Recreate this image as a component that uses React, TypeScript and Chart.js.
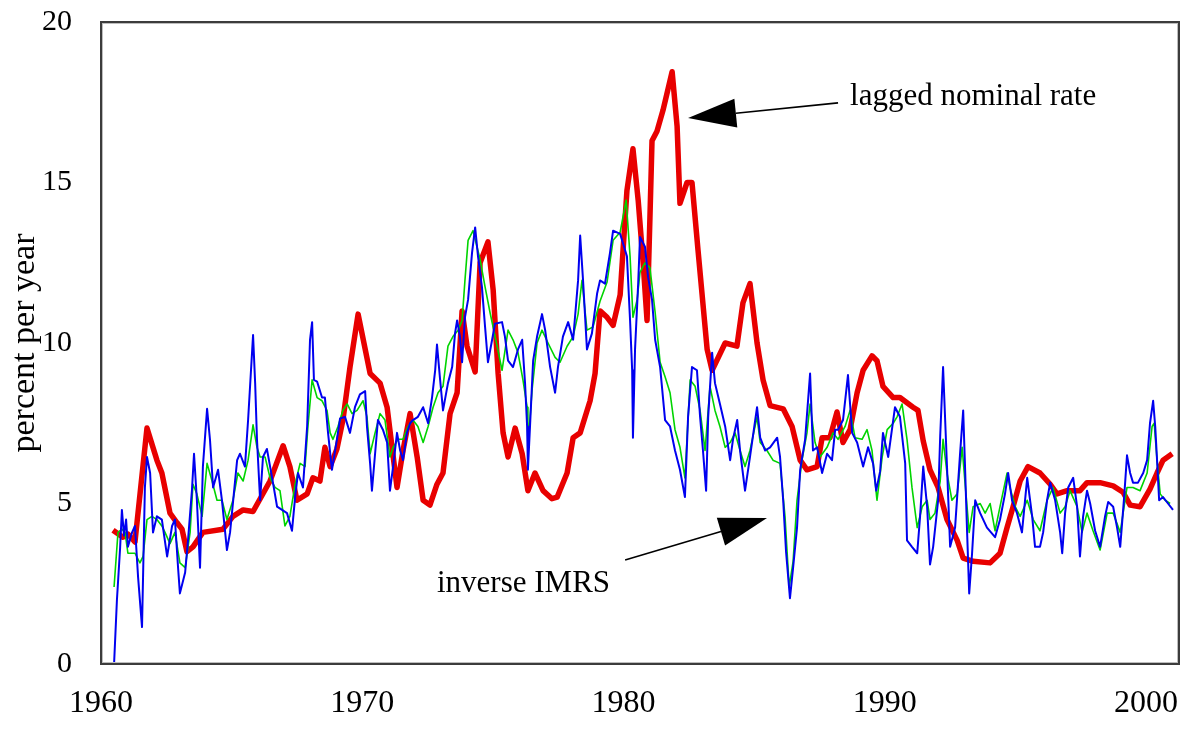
import React, { useEffect, useRef } from 'react';
import { Chart, registerables } from 'chart.js';

Chart.register(...registerables);

// ---- data (year, percent per year) ----
const X_TICKS = [1960, 1970, 1980, 1990, 2000];
const Y_TICKS = [0, 5, 10, 15, 20];
const X_RANGE = [1960, 2001.26];
const Y_RANGE = [0, 20];

// lagged nominal rate (thick red)
const RED: [number, number][] = [
  [1960.46,4.17],[1960.84,3.95],[1961.03,4.05],[1961.30,3.8],[1961.76,7.35],[1962.14,6.35],[1962.33,5.95],[1962.64,4.7],[1962.91,4.4],[1963.10,4.2],
  [1963.29,3.5],[1963.52,3.65],[1963.90,4.1],[1964.67,4.2],[1965.05,4.6],[1965.44,4.8],[1965.82,4.75],[1966.47,5.7],[1966.97,6.8],[1967.23,6.15],
  [1967.50,5.1],[1967.89,5.3],[1968.11,5.8],[1968.38,5.7],[1968.57,6.75],[1968.77,6.15],[1969.03,6.7],[1969.26,7.6],[1969.53,9.25],[1969.84,10.9],
  [1970.30,9.05],[1970.68,8.75],[1970.95,8.0],[1971.14,6.75],[1971.33,5.5],[1971.56,6.65],[1971.83,7.8],[1972.10,6.45],[1972.33,5.1],[1972.59,4.95],
  [1972.86,5.6],[1973.09,5.95],[1973.36,7.8],[1973.63,8.45],[1973.82,11.0],[1974.01,9.9],[1974.32,9.1],[1974.51,12.5],[1974.81,13.15],[1975.01,11.65],
  [1975.20,9.05],[1975.39,7.2],[1975.58,6.45],[1975.85,7.35],[1976.12,6.55],[1976.34,5.4],[1976.61,5.95],[1976.92,5.4],[1977.26,5.15],[1977.46,5.2],
  [1977.84,5.95],[1978.07,7.05],[1978.34,7.2],[1978.72,8.2],[1978.91,9.05],[1979.10,11.0],[1979.37,10.8],[1979.60,10.55],[1979.87,11.5],[1980.13,14.75],
  [1980.36,16.05],[1980.56,14.45],[1980.75,12.5],[1980.90,10.7],[1981.01,13.9],[1981.09,16.3],[1981.28,16.6],[1981.51,17.25],[1981.86,18.45],[1982.05,16.75],
  [1982.16,14.35],[1982.43,15.0],[1982.62,15.0],[1982.85,12.9],[1983.20,9.8],[1983.39,9.15],[1983.89,10.0],[1984.34,9.9],[1984.57,11.25],[1984.84,11.85],
  [1985.11,10.0],[1985.34,8.85],[1985.61,8.05],[1986.11,7.95],[1986.45,7.4],[1986.76,6.35],[1987.02,6.05],[1987.41,6.15],[1987.60,7.05],[1987.90,7.05],
  [1988.17,7.85],[1988.40,6.9],[1988.67,7.3],[1988.94,8.45],[1989.17,9.15],[1989.51,9.6],[1989.70,9.45],[1989.93,8.65],[1990.32,8.3],[1990.58,8.3],
  [1991.08,8.0],[1991.27,7.9],[1991.47,6.95],[1991.73,6.05],[1992.04,5.5],[1992.38,4.5],[1992.77,3.85],[1993.00,3.3],[1993.38,3.2],[1994.03,3.15],
  [1994.41,3.45],[1994.68,4.25],[1994.91,4.9],[1995.18,5.7],[1995.48,6.15],[1995.94,5.95],[1996.33,5.6],[1996.59,5.3],[1996.98,5.4],[1997.47,5.4],
  [1997.74,5.65],[1998.24,5.65],[1998.74,5.55],[1999.12,5.35],[1999.39,4.95],[1999.77,4.9],[2000.15,5.45],[2000.42,5.95],[2000.65,6.35],[2001.00,6.55],
];

// inverse IMRS (thin blue)
const BLUE: [number, number][] = [
  [1960.50,0.0],[1960.61,2.0],[1960.73,3.6],[1960.80,4.8],[1960.88,4.0],[1960.96,4.5],[1961.03,3.65],[1961.19,4.1],[1961.30,4.3],[1961.42,2.7],
  [1961.57,1.15],[1961.68,5.5],[1961.76,6.45],[1961.88,5.95],[1961.99,4.1],[1962.14,4.6],[1962.33,4.5],[1962.53,3.35],[1962.72,4.3],[1962.83,4.5],
  [1962.95,3.0],[1963.02,2.2],[1963.22,2.85],[1963.33,3.85],[1963.48,5.4],[1963.56,6.55],[1963.67,5.1],[1963.79,3.0],[1963.90,6.15],[1964.06,7.95],
  [1964.17,7.0],[1964.29,5.5],[1964.48,6.05],[1964.63,5.1],[1964.82,3.55],[1964.94,4.1],[1965.21,6.35],[1965.32,6.55],[1965.51,6.15],[1965.63,7.6],
  [1965.82,10.25],[1965.90,8.75],[1965.97,7.0],[1966.09,5.1],[1966.20,6.45],[1966.35,6.7],[1966.55,5.8],[1966.74,4.9],[1966.93,4.8],[1967.12,4.7],
  [1967.31,4.15],[1967.43,5.2],[1967.54,5.95],[1967.73,5.5],[1967.89,7.4],[1968.00,10.1],[1968.08,10.65],[1968.15,8.85],[1968.27,8.8],[1968.46,8.3],
  [1968.57,8.3],[1968.69,7.2],[1968.84,6.05],[1969.03,7.0],[1969.15,7.65],[1969.34,7.7],[1969.53,7.2],[1969.72,8.0],[1969.91,8.4],[1970.11,8.5],
  [1970.18,7.4],[1970.30,6.25],[1970.37,5.4],[1970.49,6.55],[1970.60,7.6],[1970.79,7.3],[1970.95,6.9],[1971.06,5.4],[1971.18,6.15],[1971.33,7.2],
  [1971.45,6.65],[1971.56,6.35],[1971.71,7.2],[1971.83,7.5],[1971.94,7.6],[1972.13,7.7],[1972.33,8.0],[1972.52,7.5],[1972.67,8.3],[1972.79,9.15],
  [1972.86,9.95],[1972.98,8.85],[1973.09,7.9],[1973.28,8.75],[1973.44,9.25],[1973.55,10.3],[1973.63,10.7],[1973.74,10.2],[1973.82,9.4],[1973.93,10.8],
  [1974.05,11.35],[1974.20,12.8],[1974.32,13.6],[1974.43,12.7],[1974.58,11.75],[1974.70,10.5],[1974.81,9.4],[1974.97,10.1],[1975.08,10.6],[1975.35,10.65],
  [1975.46,10.2],[1975.58,9.45],[1975.77,9.25],[1975.96,9.8],[1976.12,10.1],[1976.23,8.75],[1976.31,7.4],[1976.34,6.05],[1976.42,7.4],[1976.54,9.45],
  [1976.69,10.2],[1976.88,10.9],[1977.00,10.4],[1977.19,9.25],[1977.38,8.45],[1977.49,9.25],[1977.68,10.2],[1977.88,10.65],[1978.07,10.1],[1978.26,11.95],
  [1978.34,13.35],[1978.45,11.95],[1978.60,9.8],[1978.79,10.3],[1978.99,11.55],[1979.10,11.95],[1979.29,11.85],[1979.48,12.8],[1979.60,13.5],[1979.87,13.4],
  [1980.13,12.7],[1980.25,10.7],[1980.33,9.15],[1980.36,7.05],[1980.44,9.8],[1980.56,11.85],[1980.63,13.3],[1980.82,13.0],[1980.94,12.05],[1981.09,11.35],
  [1981.21,10.1],[1981.40,9.25],[1981.59,7.6],[1981.78,7.4],[1981.97,6.65],[1982.16,6.05],[1982.35,5.2],[1982.47,7.7],[1982.62,9.25],[1982.81,9.15],
  [1982.93,7.7],[1983.04,6.65],[1983.16,5.4],[1983.24,7.7],[1983.39,9.7],[1983.50,8.75],[1983.69,8.1],[1983.89,7.4],[1984.08,6.35],[1984.19,7.0],
  [1984.35,7.6],[1984.46,6.65],[1984.65,5.4],[1984.84,6.45],[1985.11,8.0],[1985.23,7.05],[1985.42,6.65],[1985.61,6.75],[1985.88,7.05],[1985.99,6.45],
  [1986.11,5.1],[1986.22,3.5],[1986.37,2.05],[1986.49,3.0],[1986.64,4.25],[1986.76,6.05],[1986.95,7.0],[1987.14,9.05],[1987.25,6.65],[1987.41,6.75],
  [1987.60,5.95],[1987.79,6.55],[1987.98,6.35],[1988.10,7.3],[1988.21,7.3],[1988.40,7.6],[1988.59,9.0],[1988.75,7.2],[1988.94,6.9],[1989.17,6.15],
  [1989.36,6.75],[1989.55,6.25],[1989.67,5.4],[1989.82,6.0],[1989.93,7.2],[1990.13,6.45],[1990.39,8.0],[1990.58,7.7],[1990.78,6.25],[1990.85,3.85],
  [1991.04,3.65],[1991.24,3.45],[1991.35,4.6],[1991.47,6.15],[1991.62,4.9],[1991.73,3.1],[1991.85,3.65],[1992.04,5.1],[1992.12,7.1],[1992.23,9.25],
  [1992.38,6.15],[1992.50,3.65],[1992.69,4.25],[1992.88,6.55],[1993.00,7.9],[1993.07,6.15],[1993.15,4.1],[1993.23,2.2],[1993.34,3.45],[1993.46,5.1],
  [1993.65,4.7],[1993.91,4.25],[1994.22,3.95],[1994.41,4.5],[1994.60,5.3],[1994.72,5.95],[1994.87,5.1],[1995.06,4.7],[1995.25,4.1],[1995.45,5.8],
  [1995.64,4.6],[1995.75,3.65],[1995.94,3.65],[1996.06,4.1],[1996.21,5.1],[1996.33,5.65],[1996.52,5.1],[1996.71,4.1],[1996.79,3.45],[1996.90,4.7],
  [1997.02,5.5],[1997.21,5.8],[1997.36,4.9],[1997.47,3.35],[1997.59,4.6],[1997.74,5.4],[1997.86,5.0],[1998.05,4.15],[1998.24,3.65],[1998.43,4.6],
  [1998.55,5.05],[1998.74,4.9],[1998.89,4.25],[1999.01,3.65],[1999.16,5.2],[1999.27,6.5],[1999.39,5.95],[1999.50,5.65],[1999.69,5.65],[1999.89,5.95],
  [2000.04,6.35],[2000.15,7.5],[2000.27,8.2],[2000.35,7.4],[2000.42,6.35],[2000.50,5.1],[2000.65,5.2],[2000.84,5.0],[2001.03,4.8],
];

// inverse IMRS, smoother variant (thin green)
const GREEN: [number, number][] = [
  [1960.50,2.4],[1960.65,4.1],[1960.80,4.2],[1960.92,4.1],[1961.03,3.45],[1961.30,3.45],[1961.49,3.15],[1961.61,3.35],[1961.76,4.5],[1961.95,4.6],
  [1962.14,4.5],[1962.33,4.3],[1962.45,4.1],[1962.64,3.75],[1962.83,4.1],[1963.02,3.15],[1963.22,3.0],[1963.41,4.1],[1963.52,5.6],[1963.67,5.3],
  [1963.87,4.6],[1964.06,6.25],[1964.25,5.7],[1964.44,5.1],[1964.63,5.1],[1964.82,4.5],[1965.05,5.1],[1965.24,5.95],[1965.44,5.7],[1965.63,6.35],
  [1965.82,7.45],[1965.97,6.75],[1966.09,6.45],[1966.28,6.45],[1966.47,5.8],[1966.66,5.5],[1966.85,5.4],[1967.04,4.3],[1967.23,4.6],[1967.43,5.6],
  [1967.62,6.25],[1967.81,6.15],[1967.92,7.4],[1968.08,8.85],[1968.27,8.3],[1968.46,8.2],[1968.65,7.9],[1968.77,7.2],[1968.88,7.0],[1969.07,7.4],
  [1969.26,7.9],[1969.42,8.1],[1969.61,7.8],[1969.80,7.9],[1970.03,8.2],[1970.18,7.7],[1970.30,6.55],[1970.49,7.2],[1970.68,7.8],[1970.87,7.6],
  [1971.06,6.45],[1971.18,6.75],[1971.37,7.0],[1971.56,7.0],[1971.75,7.4],[1971.94,7.6],[1972.13,7.4],[1972.33,6.9],[1972.52,7.4],[1972.71,8.0],
  [1972.90,8.45],[1973.09,8.65],[1973.28,9.9],[1973.47,10.2],[1973.67,10.4],[1973.82,10.7],[1973.93,11.95],[1974.05,13.2],[1974.24,13.5],[1974.39,13.0],
  [1974.51,12.6],[1974.70,11.75],[1974.89,10.95],[1975.16,9.9],[1975.35,9.15],[1975.58,10.4],[1975.77,10.1],[1975.96,9.7],[1976.15,8.85],[1976.31,8.0],
  [1976.34,6.75],[1976.50,8.55],[1976.69,10.0],[1976.88,10.4],[1977.11,10.0],[1977.38,9.55],[1977.57,9.4],[1977.84,9.9],[1978.07,10.2],[1978.26,10.9],
  [1978.41,11.95],[1978.60,10.4],[1978.83,10.5],[1979.10,11.3],[1979.37,11.9],[1979.60,13.2],[1979.87,13.45],[1980.10,14.45],[1980.25,12.7],[1980.36,10.8],
  [1980.52,11.35],[1980.63,12.2],[1980.82,12.5],[1981.01,12.35],[1981.21,10.95],[1981.40,9.4],[1981.59,8.95],[1981.78,8.45],[1981.97,7.3],[1982.16,6.75],
  [1982.35,5.8],[1982.55,8.85],[1982.74,8.65],[1982.93,7.9],[1983.12,6.65],[1983.31,8.65],[1983.50,7.9],[1983.69,7.4],[1983.89,6.75],[1984.08,6.9],
  [1984.27,7.2],[1984.46,6.65],[1984.65,6.15],[1984.84,6.65],[1985.11,7.7],[1985.23,6.9],[1985.49,6.65],[1985.72,6.35],[1985.99,6.25],[1986.18,4.6],
  [1986.34,2.4],[1986.49,3.2],[1986.64,5.1],[1986.83,6.35],[1987.02,7.2],[1987.14,8.1],[1987.33,6.9],[1987.52,6.45],[1987.79,6.75],[1988.02,7.2],
  [1988.21,7.0],[1988.48,7.4],[1988.67,7.9],[1988.86,7.05],[1989.13,7.0],[1989.32,7.3],[1989.51,6.65],[1989.70,5.1],[1989.90,6.45],[1990.09,7.3],
  [1990.32,7.5],[1990.47,7.7],[1990.66,8.1],[1990.85,7.0],[1991.04,5.5],[1991.24,4.25],[1991.43,4.9],[1991.62,5.1],[1991.73,4.5],[1991.92,4.7],
  [1992.12,5.7],[1992.23,7.0],[1992.38,5.95],[1992.57,5.1],[1992.77,5.3],[1992.96,6.75],[1993.07,5.65],[1993.23,4.1],[1993.38,4.9],[1993.65,5.0],
  [1993.84,4.7],[1994.03,5.0],[1994.22,4.15],[1994.41,4.9],[1994.68,5.95],[1994.79,5.5],[1994.99,4.9],[1995.18,4.6],[1995.45,5.1],[1995.68,4.5],
  [1995.94,4.15],[1996.21,5.1],[1996.44,5.5],[1996.71,4.7],[1996.90,4.9],[1997.09,5.4],[1997.36,4.9],[1997.55,4.1],[1997.74,4.7],[1997.97,4.15],
  [1998.24,3.55],[1998.51,4.7],[1998.74,4.7],[1999.01,4.1],[1999.27,5.5],[1999.50,5.5],[1999.77,5.4],[2000.04,5.95],[2000.23,7.4],[2000.31,7.5],
  [2000.42,6.35],[2000.54,5.3],[2000.73,5.1],[2000.92,5.0],
];

// annotation anchors in data coordinates: [year, value]
const ANNOTATIONS = [
  { text: 'lagged nominal rate', at: [1988.67, 17.41], from: [1988.21, 17.48], to: [1982.47, 17.01] },
  { text: 'inverse IMRS', at: [1972.86, 2.24], from: [1980.06, 3.24], to: [1985.49, 4.55] },
];

const FONT = '"Liberation Serif", "Times New Roman", Times, serif';

const framePlugin = {
  id: 'frame',
  afterDatasetsDraw(chart: any) {
    const { ctx, chartArea: a } = chart;
    ctx.save();
    ctx.strokeStyle = '#bdbdbd';
    ctx.lineWidth = 1;
    ctx.strokeRect(a.left + 1.5, a.top + 1.5, a.right - a.left - 3, a.bottom - a.top - 3);
    ctx.strokeStyle = '#3c3c3c';
    ctx.lineWidth = 2;
    ctx.strokeRect(a.left, a.top, a.right - a.left, a.bottom - a.top);
    ctx.restore();
  },
};

function drawArrow(ctx: CanvasRenderingContext2D, x0: number, y0: number, x1: number, y1: number) {
  const headLen = 48;
  const headHalf = 14.5;
  const ang = Math.atan2(y1 - y0, x1 - x0);
  const bx = x1 - headLen * Math.cos(ang);
  const by = y1 - headLen * Math.sin(ang);
  ctx.beginPath();
  ctx.moveTo(x0, y0);
  ctx.lineTo(bx, by);
  ctx.stroke();
  ctx.beginPath();
  ctx.moveTo(x1, y1);
  ctx.lineTo(bx + headHalf * Math.sin(ang), by - headHalf * Math.cos(ang));
  ctx.lineTo(bx - headHalf * Math.sin(ang), by + headHalf * Math.cos(ang));
  ctx.closePath();
  ctx.fill();
}

const annotationPlugin = {
  id: 'annotations',
  afterDraw(chart: any) {
    const { ctx } = chart;
    const xs = chart.scales.x;
    const ys = chart.scales.y;
    ctx.save();
    ctx.fillStyle = '#000';
    ctx.strokeStyle = '#000';
    ctx.lineWidth = 1.6;
    ctx.font = `31px ${FONT}`;
    ctx.textAlign = 'left';
    ctx.textBaseline = 'alphabetic';
    for (const a of ANNOTATIONS) {
      ctx.fillText(a.text, xs.getPixelForValue(a.at[0]), ys.getPixelForValue(a.at[1]));
      drawArrow(
        ctx,
        xs.getPixelForValue(a.from[0]), ys.getPixelForValue(a.from[1]),
        xs.getPixelForValue(a.to[0]), ys.getPixelForValue(a.to[1]),
      );
    }
    ctx.restore();
  },
};

const toXY = (arr: [number, number][]) => arr.map(([x, y]) => ({ x, y }));

const noAutoPadding = (s: any) => {
  s.paddingTop = 0;
  s.paddingBottom = 0;
  s.paddingLeft = 0;
  s.paddingRight = 0;
};

export default function App() {
  const ref = useRef<HTMLCanvasElement>(null);

  useEffect(() => {
    const canvas = ref.current;
    if (!canvas) return;
    const line = { pointRadius: 0, tension: 0, fill: false, borderJoinStyle: 'round' as const };
    const chart = new Chart(canvas, {
      type: 'line',
      data: {
        datasets: [
          { label: 'inverse IMRS', data: toXY(BLUE), borderColor: '#0000f0', borderWidth: 2, ...line },
          { label: 'inverse IMRS (smoothed)', data: toXY(GREEN), borderColor: '#00d400', borderWidth: 1.6, ...line },
          { label: 'lagged nominal rate', data: toXY(RED), borderColor: '#e80000', borderWidth: 5.5, ...line },
        ],
      },
      options: {
        responsive: false,
        animation: false,
        devicePixelRatio: 1,
        events: [],
        layout: { autoPadding: false, padding: { top: 22, right: 9, left: 0, bottom: 0 } },
        plugins: { legend: { display: false }, tooltip: { enabled: false } },
        scales: {
          x: {
            type: 'linear',
            min: X_RANGE[0],
            max: X_RANGE[1],
            grid: { display: false, drawTicks: false },
            border: { display: false },
            afterBuildTicks: (s: any) => { s.ticks = X_TICKS.map((v) => ({ value: v })); },
            afterFit: (s: any) => { s.height = 66; noAutoPadding(s); },
            ticks: {
              color: '#000',
              font: { family: FONT, size: 32 },
              padding: 20,
              maxRotation: 0,
              autoSkip: false,
              callback: (v: any) => String(v),
            },
          },
          y: {
            type: 'linear',
            min: Y_RANGE[0],
            max: Y_RANGE[1],
            grid: { display: false, drawTicks: false },
            border: { display: false },
            afterBuildTicks: (s: any) => { s.ticks = Y_TICKS.map((v) => ({ value: v })); },
            afterFit: (s: any) => { s.width = 101; noAutoPadding(s); },
            ticks: {
              color: '#000',
              font: { family: FONT, size: 30 },
              padding: 29,
              callback: (v: any) => String(v),
            },
            title: {
              display: true,
              text: 'percent per year',
              color: '#000',
              font: { family: FONT, size: 34 },
              padding: { top: 5, bottom: 0 },
            },
          },
        },
      },
      plugins: [framePlugin, annotationPlugin],
    });
    return () => chart.destroy();
  }, []);

  return (
    <div style={{ position: 'absolute', left: 0, top: 0, width: 1188, height: 730, background: '#fff' }}>
      <canvas ref={ref} width={1188} height={730} style={{ display: 'block' }} />
    </div>
  );
}
